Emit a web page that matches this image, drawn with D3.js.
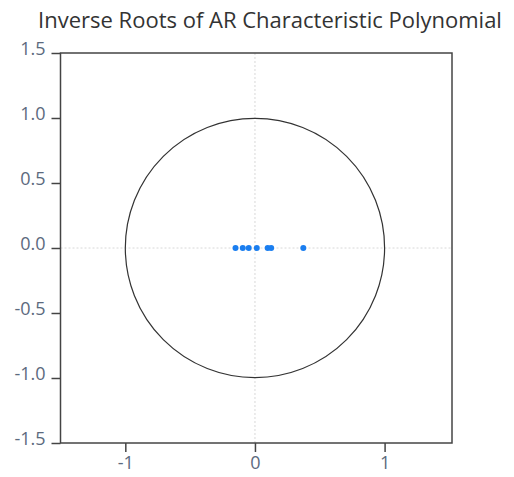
<!DOCTYPE html>
<html>
<head>
<meta charset="utf-8">
<script src="https://cdn.jsdelivr.net/npm/d3@7"></script>
<style>
  body { margin: 0; background: #fff; }
  text { font-family: "Open Sans", "Noto Sans", sans-serif; }
</style>
</head>
<body>
<div id="chart"></div>
<script>
// inverse roots (real, imaginary)
var rootRe = [-0.15, -0.094, -0.048, 0.014, 0.098, 0.125, 0.373];
var rootIm = [0, 0, 0, 0, 0, 0, 0];
var xTicks = [-1, 0, 1];
var yTicks = [1.5, 1.0, 0.5, 0.0, -0.5, -1.0, -1.5];
var title = "Inverse Roots of AR Characteristic Polynomial";

var W = 514, H = 477;
var margin = { top: 53, right: 62, bottom: 34, left: 60.5 };
var width = W - margin.left - margin.right;
var height = H - margin.top - margin.bottom;

var svg = d3.select("#chart").append("svg")
  .attr("width", W)
  .attr("height", H);

var g = svg.append("g")
  .attr("transform", "translate(" + margin.left + "," + margin.top + ")");

var x = d3.scaleLinear().domain([-1.5, 1.52]).range([0, width]);
var y = d3.scaleLinear().domain([-1.5, 1.5]).range([height, 0]);

// plain hyphen for negatives, like the original
var hyph = function (f) { return function (d) { return f(d).replace("\u2212", "-"); }; };

// zero reference lines
g.append("line")
  .attr("x1", x(0)).attr("x2", x(0))
  .attr("y1", 0).attr("y2", height)
  .attr("stroke", "#d8d8d8").attr("stroke-dasharray", "2,2");
g.append("line")
  .attr("x1", 0).attr("x2", width)
  .attr("y1", y(0)).attr("y2", y(0))
  .attr("stroke", "#d8d8d8").attr("stroke-dasharray", "2,2");

// unit circle
g.append("circle")
  .attr("cx", x(0)).attr("cy", y(0))
  .attr("r", x(1) - x(0))
  .attr("fill", "none")
  .attr("stroke", "#333")
  .attr("stroke-width", 1.2);

// frame
g.append("rect")
  .attr("x", 0).attr("y", 0)
  .attr("width", width).attr("height", height)
  .attr("fill", "none")
  .attr("stroke", "#444")
  .attr("stroke-width", 1.5);

// axes
var xAxis = g.append("g")
  .attr("transform", "translate(0," + height + ")")
  .call(d3.axisBottom(x).tickValues(xTicks).tickFormat(hyph(d3.format("d"))).tickSize(9).tickPadding(4));
var yAxis = g.append("g")
  .call(d3.axisLeft(y).tickValues(yTicks).tickFormat(hyph(d3.format(".1f"))).tickSize(9).tickPadding(6));

[xAxis, yAxis].forEach(function (a) {
  a.select(".domain").remove();
  a.selectAll(".tick line").attr("stroke", "#444").attr("stroke-width", 1.5);
  a.selectAll(".tick text")
    .attr("fill", "#5c6a7e")
    .style("font-size", "18px")
    .style("font-family", "'Open Sans', 'Noto Sans', sans-serif");
});
yAxis.selectAll(".tick text").attr("dy", "0.1em");

// roots
g.selectAll("circle.root")
  .data(rootRe)
  .enter().append("circle")
  .attr("class", "root")
  .attr("cx", function (d) { return x(d); })
  .attr("cy", function (d, i) { return y(rootIm[i]); })
  .attr("r", 3)
  .attr("fill", "#1a7ef0");

// title
svg.append("text")
  .attr("x", 270)
  .attr("y", 28)
  .attr("text-anchor", "middle")
  .attr("fill", "#333")
  .style("font-size", "22px")
  .text(title);
</script>
</body>
</html>
